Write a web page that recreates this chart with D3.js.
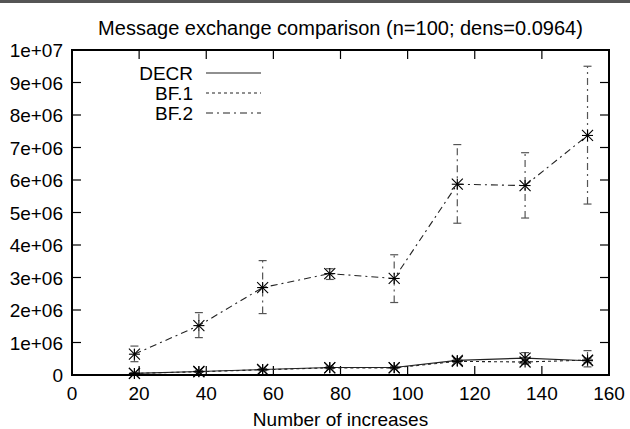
<!DOCTYPE html>
<html lang="en">
  <head>
    <meta charset="utf-8">
    <title>Message exchange comparison</title>
    <script src="https://cdnjs.cloudflare.com/ajax/libs/d3/7.8.0/d3.min.js"></script>
    <style>
      body { margin: 0; background: #fff; }
      text { font-family: "Liberation Sans", Arial, Helvetica, sans-serif; font-size: 19px; fill: #000; }
    </style>
  </head>
  <body>
    <div id="chartContainer"></div>

    <script type="text/javascript">
      // Data (y values in millions of messages)
      var increases = [18.6, 37.8, 56.8, 76.8, 96, 114.8, 135, 153.6];

      var decr   = [0.05, 0.11, 0.17, 0.23, 0.23, 0.45, 0.52, 0.44];
      var decrLo = [0.03, 0.08, 0.14, 0.20, 0.20, 0.40, 0.36, 0.38];
      var decrHi = [0.07, 0.14, 0.20, 0.27, 0.27, 0.50, 0.69, 0.52];

      var bf1   = [0.05, 0.10, 0.16, 0.22, 0.22, 0.42, 0.40, 0.46];
      var bf1Lo = [0.03, 0.08, 0.13, 0.19, 0.19, 0.38, 0.33, 0.25];
      var bf1Hi = [0.07, 0.12, 0.19, 0.25, 0.25, 0.46, 0.50, 0.75];

      var bf2   = [0.64, 1.52, 2.69, 3.12, 2.97, 5.87, 5.83, 7.37];
      var bf2Lo = [0.41, 1.15, 1.89, 2.94, 2.23, 4.67, 4.83, 5.26];
      var bf2Hi = [0.89, 1.92, 3.52, 3.27, 3.70, 7.09, 6.84, 9.50];

      var xTicks = [0, 20, 40, 60, 80, 100, 120, 140, 160];
      var yTicks = [0, 1e6, 2e6, 3e6, 4e6, 5e6, 6e6, 7e6, 8e6, 9e6, 1e7];
      var yTickLabels = ["0", "1e+06", "2e+06", "3e+06", "4e+06", "5e+06",
                         "6e+06", "7e+06", "8e+06", "9e+06", "1e+07"];

      var series = [
        { name: "DECR", y: decr, lo: decrLo, hi: decrHi, dash: null },
        { name: "BF.1", y: bf1,  lo: bf1Lo,  hi: bf1Hi,  dash: "3,3" },
        { name: "BF.2", y: bf2,  lo: bf2Lo,  hi: bf2Hi,  dash: "7,4,2,4" }
      ];

      var W = 630, H = 429;
      var margin = { top: 50, right: 21, bottom: 54, left: 72 };

      var svg = d3.select("#chartContainer")
                  .append("svg")
                  .attr("width", W)
                  .attr("height", H);

      // thin border strip along the top of the image
      svg.append("line")
         .attr("x1", 0).attr("x2", W)
         .attr("y1", 1.5).attr("y2", 1.5)
         .attr("stroke", "#555").attr("stroke-width", 3);

      var x = d3.scaleLinear().domain([0, 160]).range([margin.left, W - margin.right]);
      var y = d3.scaleLinear().domain([0, 1e7]).range([H - margin.bottom, margin.top]);

      var x0 = x.range()[0], x1 = x.range()[1];
      var y0 = y.range()[0], y1 = y.range()[1];
      var tick = 9;

      // gnuplot style inward ticks on all four sides
      var g = svg.append("g").attr("stroke", "#000").attr("stroke-width", 1.2);
      xTicks.forEach(function(t) {
        g.append("line").attr("x1", x(t)).attr("x2", x(t)).attr("y1", y0).attr("y2", y0 - tick);
        g.append("line").attr("x1", x(t)).attr("x2", x(t)).attr("y1", y1).attr("y2", y1 + tick);
      });
      yTicks.forEach(function(t) {
        g.append("line").attr("x1", x0).attr("x2", x0 + tick).attr("y1", y(t)).attr("y2", y(t));
        g.append("line").attr("x1", x1).attr("x2", x1 - tick).attr("y1", y(t)).attr("y2", y(t));
      });

      svg.selectAll(".xlab")
         .data(xTicks)
         .enter().append("text")
         .attr("x", function(d) { return x(d); })
         .attr("y", y0 + 25)
         .attr("text-anchor", "middle")
         .text(function(d) { return d; });

      svg.selectAll(".ylab")
         .data(yTicks)
         .enter().append("text")
         .attr("x", x0 - 9)
         .attr("y", function(d) { return y(d) + 7; })
         .attr("text-anchor", "end")
         .text(function(d, i) { return yTickLabels[i]; });

      svg.append("text")
         .attr("x", (x0 + x1) / 2).attr("y", 35)
         .attr("text-anchor", "middle")
         .style("font-size", "20px")
         .text("Message exchange comparison (n=100; dens=0.0964)");

      svg.append("text")
         .attr("x", (x0 + x1) / 2).attr("y", 426)
         .attr("text-anchor", "middle")
         .text("Number of increases");

      var line = d3.line()
                   .x(function(d) { return x(d.x); })
                   .y(function(d) { return y(d.y * 1e6); });

      series.forEach(function(s) {
        var pts = increases.map(function(v, i) {
          return { x: v, y: s.y[i], lo: s.lo[i], hi: s.hi[i] };
        });
        var sg = svg.append("g");

        // error bars
        pts.forEach(function(p) {
          var px = x(p.x);
          sg.append("line")
            .attr("x1", px).attr("x2", px)
            .attr("y1", y(p.lo * 1e6)).attr("y2", y(p.hi * 1e6))
            .attr("stroke", "#555").attr("stroke-width", 1.2)
            .attr("stroke-dasharray", s.dash);
          [p.lo, p.hi].forEach(function(v) {
            sg.append("line")
              .attr("x1", px - 4).attr("x2", px + 4)
              .attr("y1", y(v * 1e6)).attr("y2", y(v * 1e6))
              .attr("stroke", "#555").attr("stroke-width", 1.2);
          });
        });

        sg.append("path")
          .datum(pts)
          .attr("d", line)
          .attr("fill", "none")
          .attr("stroke", "#222")
          .attr("stroke-width", 1.1)
          .attr("stroke-dasharray", s.dash);

        // asterisk markers
        var r = 5.5;
        pts.forEach(function(p) {
          var px = x(p.x), py = y(p.y * 1e6);
          var m = sg.append("g").attr("stroke", "#000").attr("stroke-width", 1.1);
          m.append("line").attr("x1", px - r).attr("x2", px + r).attr("y1", py).attr("y2", py);
          m.append("line").attr("x1", px).attr("x2", px).attr("y1", py - r).attr("y2", py + r);
          m.append("line").attr("x1", px - r).attr("x2", px + r).attr("y1", py - r).attr("y2", py + r);
          m.append("line").attr("x1", px - r).attr("x2", px + r).attr("y1", py + r).attr("y2", py - r);
        });
      });

      // legend
      series.forEach(function(s, i) {
        var ly = 73 + i * 20;
        svg.append("text")
           .attr("x", 193).attr("y", ly + 7)
           .attr("text-anchor", "end")
           .text(s.name);
        svg.append("line")
           .attr("x1", 206).attr("x2", 261)
           .attr("y1", ly).attr("y2", ly)
           .attr("stroke", "#222").attr("stroke-width", 1.1)
           .attr("stroke-dasharray", s.dash);
      });

      // frame
      svg.append("rect")
         .attr("x", x0).attr("y", y1)
         .attr("width", x1 - x0).attr("height", y0 - y1)
         .attr("fill", "none")
         .attr("stroke", "#000").attr("stroke-width", 2);
    </script>
  </body>
</html>
